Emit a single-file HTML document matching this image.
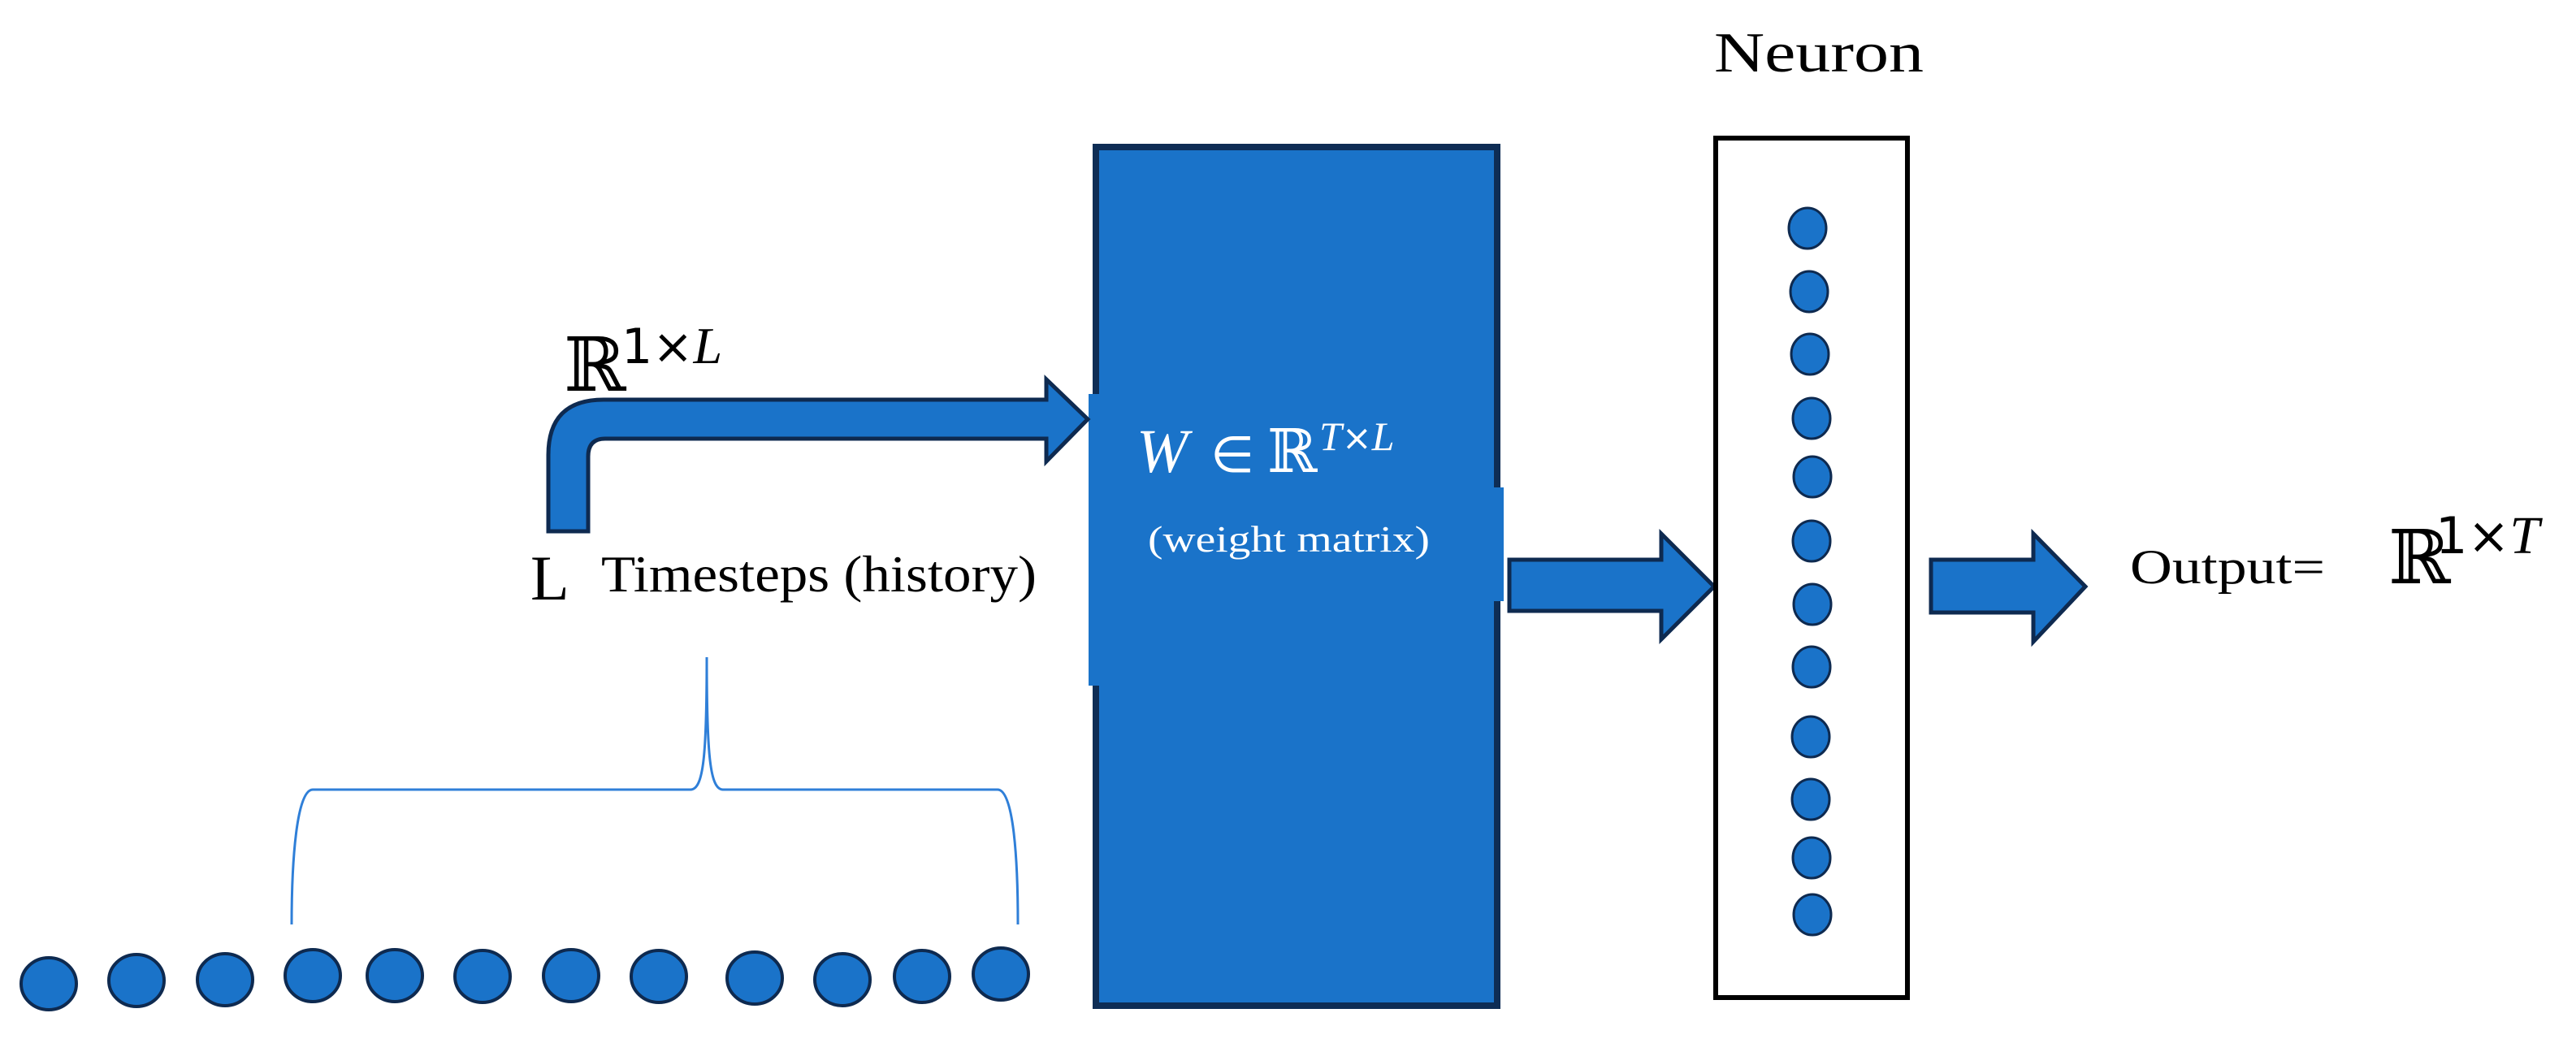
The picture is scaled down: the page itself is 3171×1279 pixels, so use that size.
<!DOCTYPE html>
<html><head><meta charset="utf-8"><style>
html,body{margin:0;padding:0;background:#fff}
svg{display:block}
</style></head><body>
<svg width="3171" height="1279" viewBox="0 0 3171 1279" xmlns="http://www.w3.org/2000/svg">
<rect width="3171" height="1279" fill="#fff"/>
<!-- Big weight matrix rect -->
<rect x="1349" y="181" width="494" height="1057" fill="#1a73c9" stroke="#0e2d55" stroke-width="8"/>
<rect x="1340" y="485" width="20" height="359" fill="#1a73c9"/>
<rect x="1835" y="600" width="16" height="140" fill="#1a73c9"/>
<!-- bent arrow -->
<path d="M675,654 L675,560 Q675,492 743,492 L1288,492 L1288,467 L1339,516 L1288,568 L1288,540 L745,540 Q724,540 724,562 L724,654 Z" fill="#1a73c9" stroke="#0e2a50" stroke-width="5" stroke-linejoin="miter"/>
<!-- R^{1xL} -->
<text x="694" y="481" font-family="DejaVu Serif, serif" font-size="92" fill="#000">ℝ</text>
<text x="765" y="447" font-family="DejaVu Sans, sans-serif" font-size="60" fill="#000">1×<tspan font-family="Liberation Serif, serif" font-style="italic" font-size="64">L</tspan></text>
<!-- L Timesteps -->
<text x="653" y="738" font-family="Liberation Serif, serif" font-size="78" fill="#000">L</text>
<text x="740" y="728" font-family="Liberation Serif, serif" font-size="64" fill="#000" textLength="536" lengthAdjust="spacingAndGlyphs">Timesteps (history)</text>
<!-- brace -->
<path d="M359,1138 C359,1060 365,972 385,972 L850,972 C866,972 870,930 870,809 C870,930 874,972 890,972 L1228,972 C1248,972 1253,1060 1253,1138" fill="none" stroke="#2f7fd8" stroke-width="3"/>
<!-- bottom circles -->
<g fill="#1a73c9" stroke="#0e2a50" stroke-width="4">
<ellipse cx="60" cy="1211" rx="34" ry="32"/>
<ellipse cx="168" cy="1207" rx="34" ry="32"/>
<ellipse cx="277" cy="1206" rx="34" ry="32"/>
<ellipse cx="385" cy="1201" rx="34" ry="32"/>
<ellipse cx="486" cy="1201" rx="34" ry="32"/>
<ellipse cx="594" cy="1202" rx="34" ry="32"/>
<ellipse cx="703" cy="1201" rx="34" ry="32"/>
<ellipse cx="811" cy="1202" rx="34" ry="32"/>
<ellipse cx="929" cy="1204" rx="34" ry="32"/>
<ellipse cx="1037" cy="1206" rx="34" ry="32"/>
<ellipse cx="1135" cy="1202" rx="34" ry="32"/>
<ellipse cx="1232" cy="1199" rx="34" ry="32"/>
</g>
<!-- W in R^{TxL} -->
<text x="1399" y="581" font-family="Liberation Serif, serif" font-size="76" font-style="italic" fill="#fff">W</text>
<text x="1490" y="581" font-family="DejaVu Sans, sans-serif" font-size="62" fill="#fff">∈</text>
<text x="1560" y="581" font-family="DejaVu Serif, serif" font-size="74" fill="#fff">ℝ</text>
<text x="1624" y="554" font-family="Liberation Serif, serif" font-size="50" font-style="italic" fill="#fff">T<tspan font-family="DejaVu Sans, sans-serif" font-style="normal" font-size="44">×</tspan>L</text>
<text x="1413" y="679" font-family="Liberation Serif, serif" font-size="46" fill="#fff" textLength="347" lengthAdjust="spacingAndGlyphs">(weight matrix)</text>
<!-- arrows -->
<path d="M1858,689 L2045,689 L2045,657 L2110,722 L2045,787 L2045,752 L1858,752 Z" fill="#1a73c9" stroke="#0e2a50" stroke-width="5"/>
<path d="M2377,689 L2503,689 L2503,657 L2567,722 L2503,790 L2503,754 L2377,754 Z" fill="#1a73c9" stroke="#0e2a50" stroke-width="5"/>
<!-- Neuron -->
<text x="2110" y="88" font-family="Liberation Serif, serif" font-size="70" fill="#000" textLength="258" lengthAdjust="spacingAndGlyphs">Neuron</text>
<rect x="2112" y="170" width="236" height="1058" fill="#fff" stroke="#000" stroke-width="6"/>
<g fill="#1a73c9" stroke="#0e2a50" stroke-width="3">
<ellipse cx="2225" cy="281" rx="23" ry="25"/>
<ellipse cx="2227" cy="359" rx="23" ry="25"/>
<ellipse cx="2228" cy="436" rx="23" ry="25"/>
<ellipse cx="2230" cy="515" rx="23" ry="25"/>
<ellipse cx="2231" cy="587" rx="23" ry="25"/>
<ellipse cx="2230" cy="666" rx="23" ry="25"/>
<ellipse cx="2231" cy="744" rx="23" ry="25"/>
<ellipse cx="2230" cy="821" rx="23" ry="25"/>
<ellipse cx="2229" cy="907" rx="23" ry="25"/>
<ellipse cx="2229" cy="984" rx="23" ry="25"/>
<ellipse cx="2230" cy="1056" rx="23" ry="25"/>
<ellipse cx="2231" cy="1126" rx="23" ry="25"/>
</g>
<!-- Output -->
<text x="2622" y="718" font-family="Liberation Serif, serif" font-size="60" fill="#000" textLength="240" lengthAdjust="spacingAndGlyphs">Output=</text>
<text x="2940" y="718" font-family="DejaVu Serif, serif" font-size="92" fill="#000">ℝ</text>
<text x="2998" y="681" font-family="DejaVu Sans, sans-serif" font-size="62" fill="#000">1×<tspan font-family="Liberation Serif, serif" font-style="italic" font-size="66">T</tspan></text>
</svg>
</body></html>
